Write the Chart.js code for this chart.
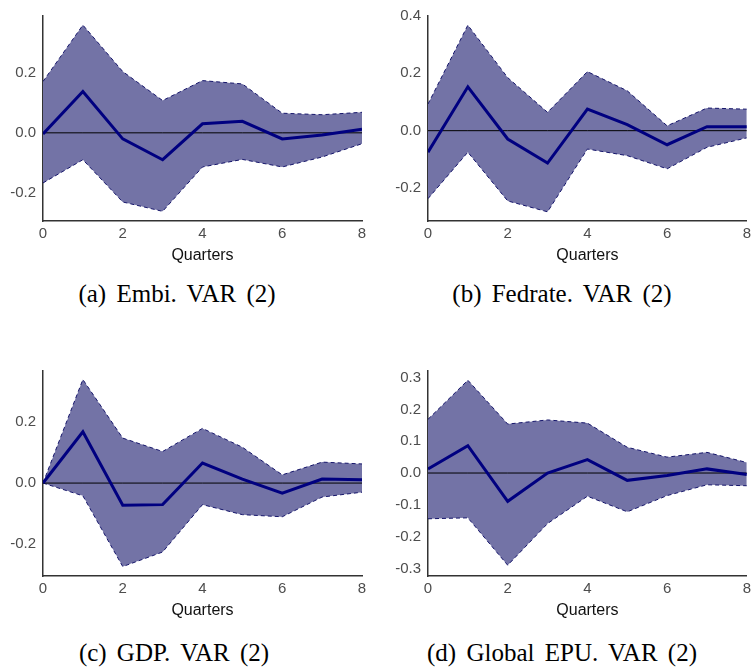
<!DOCTYPE html>
<html>
<head>
<meta charset="utf-8">
<script src="https://cdn.jsdelivr.net/npm/chart.js@4.4.1/dist/chart.umd.min.js"></script>
<style>
  body { margin: 0; background: #fff; width: 755px; height: 670px; position: relative; overflow: hidden; }
  canvas { position: absolute; }
  .cap { position: absolute; font-family: "Liberation Serif", "Times New Roman", serif; font-size: 25px; word-spacing: 4px; color: #000; white-space: nowrap; transform: translate(-50%, -50%); }
</style>
</head>
<body>
<canvas id="embi" width="375" height="270" style="left:0;top:0"></canvas>
<canvas id="fedrate" width="370" height="270" style="left:385px;top:0"></canvas>
<canvas id="gdp" width="375" height="270" style="left:0;top:355px"></canvas>
<canvas id="epu" width="370" height="270" style="left:385px;top:355px"></canvas>
<div class="cap" style="left:177px;top:294px">(a) Embi. VAR (2)</div>
<div class="cap" style="left:562px;top:294px">(b) Fedrate. VAR (2)</div>
<div class="cap" style="left:174px;top:653px">(c) GDP. VAR (2)</div>
<div class="cap" style="left:562px;top:653px">(d) Global EPU. VAR (2)</div>
<script>
var quarters = [0, 1, 2, 3, 4, 5, 6, 7, 8];
var xTicks = [0, 2, 4, 6, 8];

// (a) Embi
var embiIrf = [-0.004, 0.137, -0.02, -0.089, 0.03, 0.038, -0.02, -0.007, 0.012];
var embiUpper = [0.17, 0.357, 0.203, 0.107, 0.173, 0.162, 0.065, 0.06, 0.068];
var embiLower = [-0.166, -0.089, -0.229, -0.26, -0.113, -0.088, -0.113, -0.08, -0.036];
var embiTicks = [-0.2, 0, 0.2];

// (b) Fedrate
var fedIrf = [-0.075, 0.153, -0.029, -0.113, 0.075, 0.021, -0.049, 0.014, 0.014];
var fedUpper = [0.093, 0.368, 0.185, 0.064, 0.206, 0.139, 0.017, 0.079, 0.075];
var fedLower = [-0.237, -0.075, -0.245, -0.283, -0.064, -0.087, -0.133, -0.058, -0.025];
var fedTicks = [-0.2, 0, 0.2, 0.4];

// (c) GDP
var gdpIrf = [0, 0.169, -0.073, -0.071, 0.066, 0.013, -0.033, 0.013, 0.011];
var gdpUpper = [0, 0.341, 0.148, 0.104, 0.18, 0.118, 0.027, 0.069, 0.063];
var gdpLower = [0, -0.042, -0.275, -0.227, -0.071, -0.104, -0.111, -0.046, -0.03];
var gdpTicks = [-0.2, 0, 0.2];

// (d) Global EPU
var epuIrf = [0.013, 0.086, -0.089, 0, 0.042, -0.023, -0.008, 0.013, -0.005];
var epuUpper = [0.169, 0.292, 0.154, 0.167, 0.157, 0.081, 0.05, 0.065, 0.033];
var epuLower = [-0.144, -0.141, -0.29, -0.159, -0.073, -0.122, -0.071, -0.037, -0.04];
var epuTicks = [-0.3, -0.2, -0.1, 0, 0.1, 0.2, 0.3];

function xy(vals) {
  return vals.map(function (v, i) { return { x: quarters[i], y: v }; });
}

function drawIrf(id, irf, upper, lower, yTicks, yMin, yMax, padTop, padRight) {
  var ctx = document.getElementById(id).getContext("2d");
  return new Chart(ctx, {
    type: "line",
    data: {
      datasets: [
        { data: xy(irf), borderColor: "#000080", borderWidth: 3, pointRadius: 0, fill: false },
        { data: xy(quarters.map(function () { return 0; })), borderColor: "#000", borderWidth: 1, pointRadius: 0, fill: false },
        { data: xy(upper), borderColor: "#15156a", borderWidth: 1, borderDash: [4, 3], pointRadius: 0, fill: false },
        { data: xy(lower), borderColor: "#15156a", borderWidth: 1, borderDash: [4, 3], pointRadius: 0, fill: "-1", backgroundColor: "#7373a6" },
      ],
    },
    options: {
      responsive: false,
      animation: false,
      layout: { padding: { top: padTop, right: padRight, left: 0, bottom: 0 } },
      plugins: { legend: { display: false }, tooltip: { enabled: false } },
      elements: { line: { tension: 0 } },
      scales: {
        x: {
          type: "linear",
          min: 0,
          max: 8,
          grid: { display: false, drawTicks: false },
          border: { display: true, color: "#333", width: 1.5 },
          afterBuildTicks: function (s) { s.ticks = xTicks.map(function (v) { return { value: v }; }); },
          afterFit: function (s) { s.height = 49; },
          ticks: { color: "#4d4d4d", padding: 4, font: { family: "Liberation Sans", size: 15 }, maxRotation: 0 },
          title: { display: true, text: "Quarters", color: "#111", padding: { top: 0, bottom: 5 }, font: { family: "Liberation Sans", size: 16 } },
        },
        y: {
          min: yMin,
          max: yMax,
          grid: { display: false, drawTicks: false },
          border: { display: true, color: "#333", width: 1.5 },
          afterBuildTicks: function (s) { s.ticks = yTicks.map(function (v) { return { value: v }; }); },
          afterFit: function (s) { s.width = 43; },
          ticks: {
            color: "#4d4d4d",
            padding: 7,
            font: { family: "Liberation Sans", size: 15 },
            callback: function (v) { return v.toFixed(1); },
          },
        },
      },
    },
  });
}

drawIrf("embi", embiIrf, embiUpper, embiLower, embiTicks, -0.292, 0.387, 15, 13);
drawIrf("fedrate", fedIrf, fedUpper, fedLower, fedTicks, -0.315, 0.4, 15, 7);
drawIrf("gdp", gdpIrf, gdpUpper, gdpLower, gdpTicks, -0.306, 0.369, 15.7, 13);
drawIrf("epu", epuIrf, epuUpper, epuLower, epuTicks, -0.324, 0.321, 15.7, 7);
</script>
</body>
</html>
